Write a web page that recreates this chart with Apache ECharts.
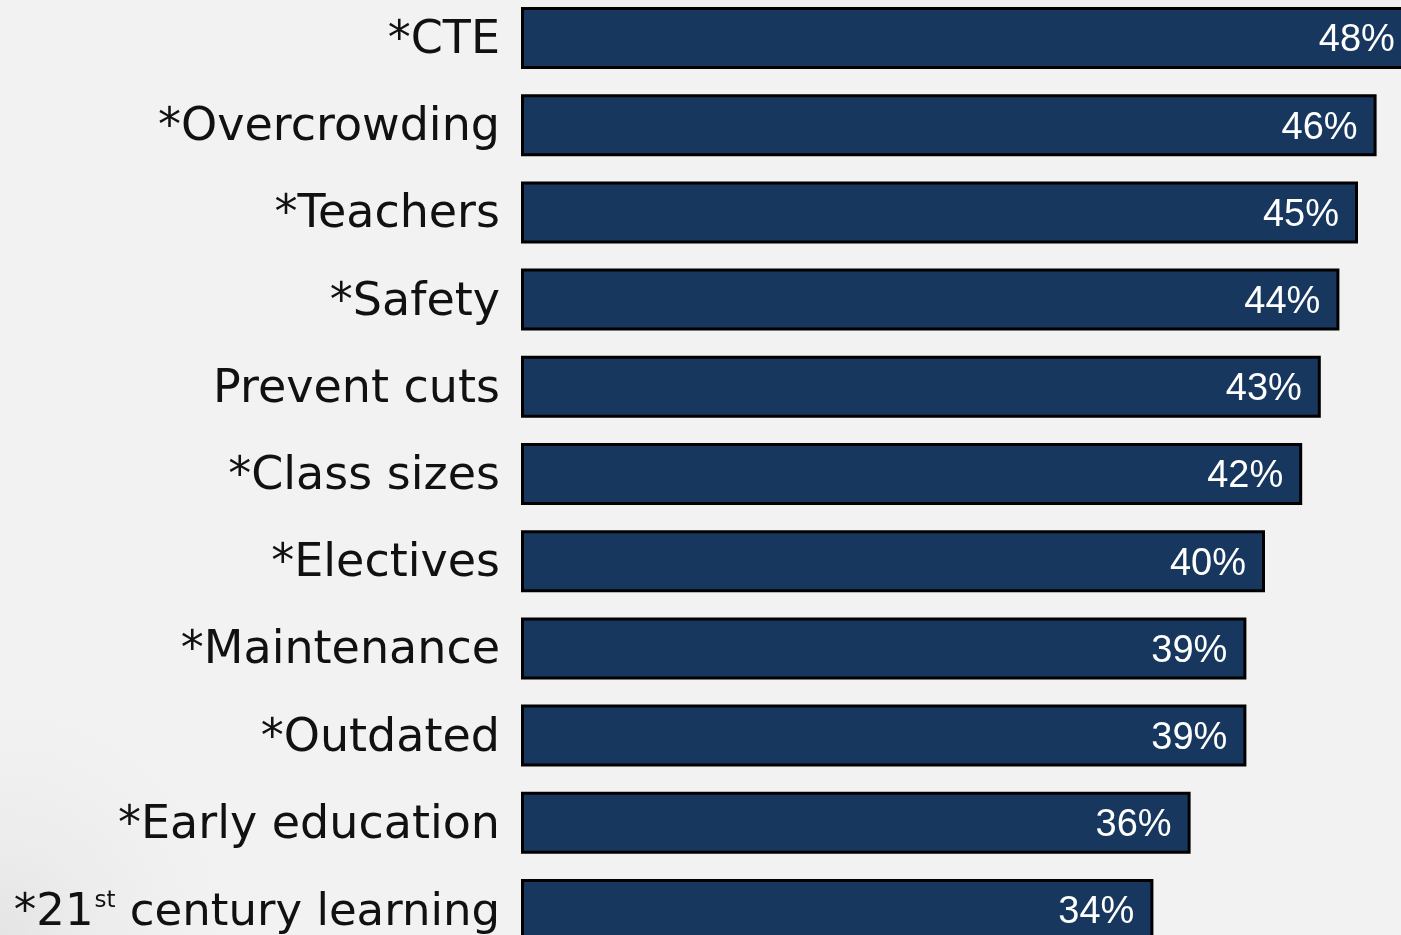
<!DOCTYPE html>
<html>
<head>
<meta charset="utf-8">
<script src="https://cdn.jsdelivr.net/npm/echarts@6/dist/echarts.min.js"></script>
<style>
html,body{margin:0;padding:0;background:#f2f2f2;}
#c{width:1401px;height:935px;}
</style>
</head>
<body>
<div id="c"></div>
<script>
const categories = ['*CTE', '*Overcrowding', '*Teachers', '*Safety', 'Prevent cuts', '*Class sizes', '*Electives', '*Maintenance', '*Outdated', '*Early education', '*21st century learning'];
const values = [48, 46, 45, 44, 43, 42, 40, 39, 39, 36, 34];

const chart = echarts.init(document.getElementById('c'), null, {renderer: 'canvas'});
chart.setOption({
  backgroundColor: '#f2f2f2',
  animation: false,
  graphic: [{
    type: 'rect',
    silent: true,
    z: -10,
    shape: {x: 0, y: 0, width: 1401, height: 935},
    style: {
      fill: new echarts.graphic.RadialGradient(0, 1, 0.3, [
        {offset: 0, color: 'rgba(215,215,215,0.5)'},
        {offset: 1, color: 'rgba(242,242,242,0)'}
      ])
    }
  }],
  grid: {left: 521, top: -5.6, width: 930, height: 959.2, containLabel: false, outerBoundsMode: 'none'},
  xAxis: {
    type: 'value', min: 0, max: 50, show: false
  },
  yAxis: {
    type: 'category',
    data: categories,
    inverse: true,
    axisLine: {show: false},
    axisTick: {show: false},
    splitLine: {show: false},
    axisLabel: {
      margin: 21,
      color: '#111111',
      fontFamily: 'DejaVu Sans',
      fontSize: 46,
      formatter: function (v) {
        if (v.indexOf('21st') >= 0) {
          return '{m|*21}{sup|st}{m|' + v.replace('*21st', '') + '}';
        }
        return '{n|' + v + '}';
      },
      rich: {
        n: {fontSize: 46, lineHeight: 56, fontFamily: 'DejaVu Sans', color: '#111111', padding: [6, 0, 0, 0]},
        m: {fontSize: 45, lineHeight: 56, fontFamily: 'DejaVu Sans', color: '#111111', padding: [6, 0, 0, 0]},
        sup: {fontSize: 23, lineHeight: 30, verticalAlign: 'top', fontFamily: 'DejaVu Sans', color: '#111111', padding: [8, 0, 0, 1]}
      }
    }
  },
  series: [{
    type: 'bar',
    data: values,
    barWidth: 62,
    itemStyle: {color: '#17375E', borderColor: '#000000', borderWidth: 3},
    label: {
      show: true,
      position: 'insideRight',
      distance: 19,
      offset: [0, 3],
      formatter: '{c}%',
      color: '#ffffff',
      fontFamily: 'Liberation Sans, Arial, sans-serif',
      fontSize: 38
    }
  }]
});
</script>
</body>
</html>
